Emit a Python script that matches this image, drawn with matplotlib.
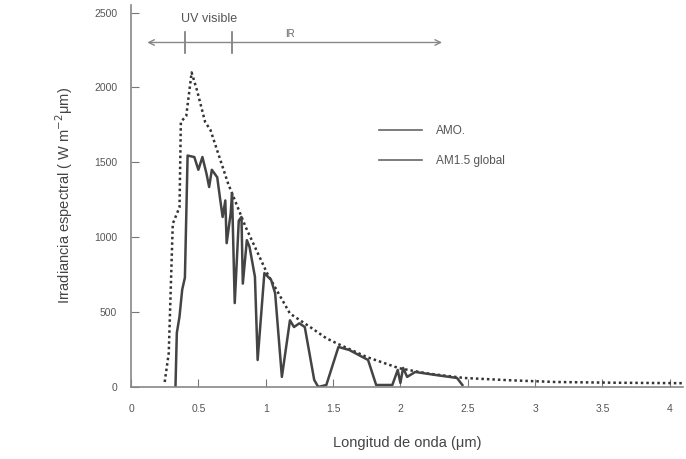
import matplotlib.pyplot as plt
from matplotlib.lines import Line2D

plt.rcParams['font.family'] = ['Liberation Sans', 'DejaVu Sans']

# AM0 (punteada)
am0_x = [0.25, 0.28, 0.31, 0.36, 0.37, 0.41, 0.45, 0.49, 0.55, 0.59, 0.72, 0.85,
         1.01, 1.18, 1.33, 1.45, 1.53, 1.75, 1.99, 2.2, 2.47, 2.8, 3.15, 3.6, 4.1]
am0_y = [33, 225, 1090, 1200, 1770, 1810, 2100, 1980, 1770, 1715, 1360, 1070,
         760, 490, 400, 325, 290, 200, 125, 90, 60, 45, 33, 28, 25]

# AM1.5 global (continua)
am15_x = [0.33, 0.34, 0.36, 0.38, 0.40, 0.42, 0.47, 0.50, 0.53, 0.56, 0.58, 0.60,
          0.64, 0.66, 0.68, 0.70, 0.71, 0.74, 0.75, 0.77, 0.80, 0.82, 0.83, 0.86,
          0.88, 0.92, 0.94, 0.99, 1.04, 1.07, 1.12, 1.18, 1.21, 1.25, 1.29, 1.36,
          1.39, 1.45, 1.54, 1.62, 1.76, 1.82, 1.94, 1.98, 2.00, 2.02, 2.05, 2.11,
          2.26, 2.42, 2.46]
am15_y = [0, 360, 470, 650, 730, 1545, 1535, 1450, 1535, 1425, 1335, 1450,
          1400, 1265, 1135, 1245, 960, 1160, 1290, 560, 1110, 1135, 690, 980,
          935, 735, 180, 760, 715, 625, 67, 445, 400, 425, 400, 47,
          0, 13, 267, 247, 180, 13, 13, 113, 27, 127, 67, 100,
          80, 60, 13]

xticks = [0, 0.5, 1, 1.5, 2, 2.5, 3, 3.5, 4]
xtick_labels = ['0', '0.5', '1', '1.5', '2', '2.5', '3', '3.5', '4']
yticks = [0, 500, 1000, 1500, 2000, 2500]

fig = plt.figure(figsize=(6.86, 4.59), dpi=100)
ax = fig.add_axes([0.191, 0.157, 0.805, 0.832])

ax.plot(am0_x, am0_y, color='#333333', linewidth=1.8, linestyle=(0, (1, 1.2)))
ax.plot(am15_x, am15_y, '-', color='#444444', linewidth=1.8)

ax.set_xlim(0, 4.1)
ax.set_ylim(0, 2550)
ax.set_xticks(xticks)
ax.set_xticklabels(xtick_labels)
ax.set_yticks(yticks)
ax.tick_params(direction='in', length=6, colors='#777777', labelcolor='#555555',
               labelsize=7.5)
ax.tick_params(axis='x', pad=12)
ax.tick_params(axis='y', pad=10)

for s in ['top', 'right']:
    ax.spines[s].set_visible(False)
for s in ['left', 'bottom']:
    ax.spines[s].set_color('#888888')
    ax.spines[s].set_linewidth(1.2)

ax.set_xlabel('Longitud de onda (μm)', fontsize=10.5, color='#444444', labelpad=16)
ax.set_ylabel('Irradiancia espectral ( W m$^{-2}$μm)', fontsize=10.5,
              color='#444444', labelpad=14)

# Flecha UV / visible / IR
ax.annotate('', xy=(0.1, 2300), xytext=(2.33, 2300),
            arrowprops=dict(arrowstyle='<->', color='#888888', lw=1.0))
for xv in [0.40, 0.75]:
    ax.plot([xv, xv], [2230, 2370], color='#777777', lw=1.2)
ax.text(0.58, 2460, 'UV visible', ha='center', va='center', fontsize=9,
        color='#555555')
ax.text(1.18, 2360, 'IR', ha='center', va='center', fontsize=7, color='#666666')

handles = [Line2D([], [], color='#666666', lw=1.2),
           Line2D([], [], color='#666666', lw=1.2)]
ax.legend(handles, ['AMO.', 'AM1.5 global'], loc='center left',
          bbox_to_anchor=(0.43, 0.63), frameon=False, fontsize=8.5,
          handlelength=3.6, handletextpad=1.2, labelcolor='#555555',
          labelspacing=1.5)

fig.savefig('out.png', dpi=100)
